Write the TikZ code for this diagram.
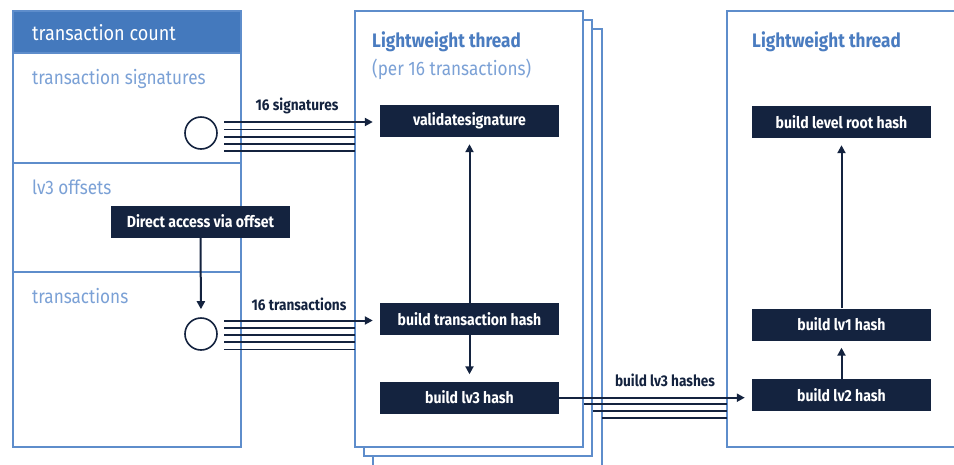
\documentclass[tikz,border=0pt]{standalone}
\usepackage{fontspec}
\setmainfont{Fira Sans}[FakeStretch=0.88]
\usetikzlibrary{arrows.meta}
\definecolor{navy}{HTML}{14233F}
\definecolor{headblue}{HTML}{4479BD}
\definecolor{lineblue}{HTML}{5E8DCB}
\definecolor{titleblue}{HTML}{4A7CC0}
\definecolor{lightblue}{HTML}{7BA1D6}
\tikzset{
  frame/.style={draw=lineblue, line width=1.6pt, fill=white},
  darkbox/.style={fill=navy, text=white, font=\bfseries\fontsize{16}{18}\selectfont, minimum width=179pt, minimum height=32pt, inner sep=0pt},
  seclabel/.style={text=lightblue, font=\fontsize{19.5}{22}\selectfont, anchor=base west, inner sep=0pt},
  title/.style={text=titleblue, font=\bfseries\fontsize{19.5}{22}\selectfont, anchor=base west, inner sep=0pt},
  buslabel/.style={text=navy, font=\bfseries\fontsize{15.5}{18}\selectfont, anchor=base, inner sep=0pt},
  bus/.style={draw=navy, line width=1.8pt},
  arr/.style={draw=navy, line width=2pt, -{Triangle[length=8pt,width=8pt]}},
  ring/.style={circle, draw=navy, line width=1.6pt, minimum size=32pt, inner sep=0pt, fill=white}
}
\begin{document}
\begin{tikzpicture}[x=1pt,y=-1pt]
\useasboundingbox (0,0) rectangle (954,464);
\clip (0,0) rectangle (954,464);
% left store
\draw[frame] (13,11) rectangle (241,447);
\fill[headblue] (13,11) rectangle (241,53);
\draw[lineblue, line width=1.6pt] (13,11) rectangle (241,53);
\draw[lineblue, line width=1.6pt] (13,163) -- (241,163);
\draw[lineblue, line width=1.6pt] (13,272) -- (241,272);
\node[anchor=base west, inner sep=0pt, text=white, font=\fontsize{20.5}{23}\selectfont] (hdr) at (32,40) {transaction count};
\node[seclabel] (lsig) at (32,84) {transaction signatures};
\node[seclabel] (loff) at (32,194) {lv3 offsets};
\node[seclabel] (ltx) at (32,303) {transactions};
% thread stack
\draw[frame] (373,29) rectangle (602,480);
\draw[frame] (364,20) rectangle (592,456);
\draw[frame] (355,11) rectangle (583,447);
\node[title] (t1) at (372,47) {Lightweight thread};
\node[seclabel] (t1b) at (372,75) {(per 16 transactions)};
% right thread
\draw[frame] (727,11) rectangle (970,447);
\node[title] (t2) at (752,47) {Lightweight thread};
% circles
\node[ring] (c1) at (201,133) {};
\node[ring] (c2) at (201,334) {};
% dark boxes
\node[darkbox] (vs) at (469.5,121) {validatesignature};
\node[darkbox] (bth) at (469.5,319) {build transaction hash};
\node[darkbox] (bl3) at (469.5,397.5) {build lv3 hash};
\node[darkbox] (dav) at (200.5,221.5) {Direct access via offset};
\node[darkbox] (root) at (841.5,122) {build level root hash};
\node[darkbox] (l1) at (841.5,324.5) {build lv1 hash};
\node[darkbox] (l2) at (841.5,395) {build lv2 hash};
% bus from signatures
\coordinate (s0) at (224,122);
\draw[arr, shorten >=7pt] (s0) -- (s0 -| vs.west);
\foreach \k/\yy in {1/129.5,2/136.8,3/144,4/151.3}{
  \coordinate (sa\k) at (224,\yy);
  \coordinate (sb\k) at (355,\yy);
  \draw[bus] (sa\k) -- (sb\k);
}
\node[buslabel] (l16s) at (297,110.5) {16 signatures};
% bus from transactions
\coordinate (x0) at (224,320.5);
\draw[arr, shorten >=7pt] (x0) -- (x0 -| bth.west);
\foreach \k/\yy in {1/327.8,2/335,3/342.3,4/349.5}{
  \coordinate (xa\k) at (224,\yy);
  \coordinate (xb\k) at (355,\yy);
  \draw[bus] (xa\k) -- (xb\k);
}
\node[buslabel] (l16t) at (299,310) {16 transactions};
% direct access arrow
\draw[arr, shorten >=8pt] (dav.south) -- (c2.north);
% internal arrows
\draw[arr, shorten >=7pt] (bth.north) -- (vs.south);
\draw[arr, shorten >=7pt] (bth.south) -- (bl3.north);
\draw[arr, shorten >=7pt] (l1.north) -- (root.south);
\draw[arr, shorten >=7pt] (l2.north) -- (l1.south);
% lv3 hashes bus
\draw[arr, shorten >=7pt] (bl3.east |- 0,397.7) coordinate (h0) -- (h0 -| l2.west);
\coordinate (ha1) at (584,404.3); \coordinate (hb1) at (727,404.3);
\coordinate (ha2) at (593,411.3); \coordinate (hb2) at (727,411.3);
\coordinate (ha3) at (602,418.3); \coordinate (hb3) at (727,418.3);
\draw[bus] (ha1) -- (hb1);
\draw[bus] (ha2) -- (hb2);
\draw[bus] (ha3) -- (hb3);
\node[buslabel] (l3h) at (665,386) {build lv3 hashes};
\end{tikzpicture}
\end{document}
